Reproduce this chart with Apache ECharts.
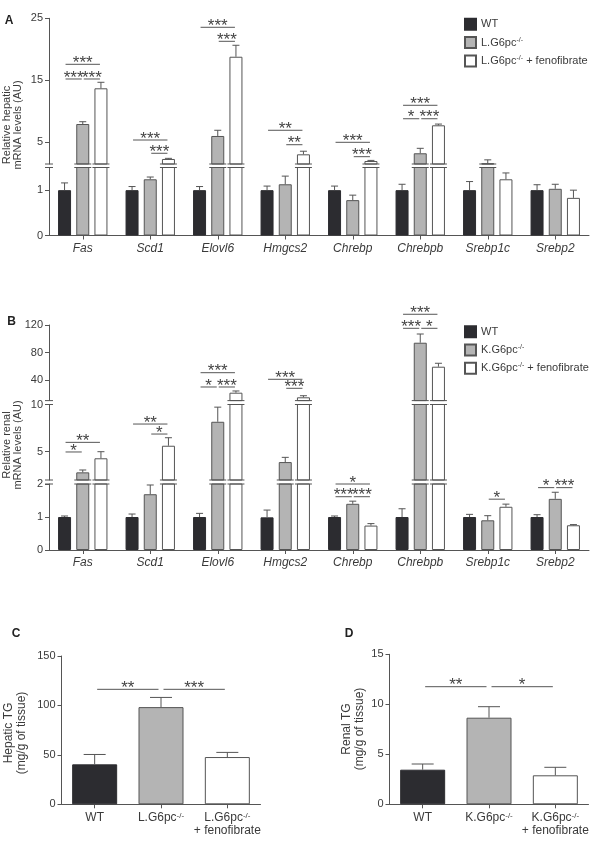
<!DOCTYPE html>
<html><head><meta charset="utf-8">
<script src="https://cdn.jsdelivr.net/npm/echarts@6/dist/echarts.min.js"></script>
<style>html,body{margin:0;padding:0;background:#fff}#c{width:596px;height:844px}</style>
</head><body><div id="c"></div>
<script>
// ---------------- DATA ----------------
const genes = ['Fas','Scd1','Elovl6','Hmgcs2','Chrebp','Chrebpb','Srebp1c','Srebp2'];
const groupsL = ['WT','L.G6pc-/-','L.G6pc-/- + fenofibrate'];
const groupsK = ['WT','K.G6pc-/-','K.G6pc-/- + fenofibrate'];

// Panel A: relative hepatic mRNA levels
const hepaticWT      = [1.0, 1.0, 1.0, 1.0, 1.0, 1.0, 1.0, 1.0];
const hepaticWTErr   = [0.16, 0.08, 0.08, 0.09, 0.09, 0.13, 0.19, 0.12];
const hepaticKO      = [7.95, 1.24, 6.02, 1.13, 0.78, 3.23, 1.62, 1.03];
const hepaticKOErr   = [0.37, 0.05, 0.92, 0.18, 0.11, 0.8, 0.55, 0.1];
const hepaticFeno    = [13.71, 2.31, 18.8, 3.06, 1.98, 7.74, 1.24, 0.83];
const hepaticFenoErr = [0.97, 0.1, 1.85, 0.5, 0.1, 0.2, 0.14, 0.17];
const hepaticTicksLow  = [0, 1];
const hepaticTicksHigh = [5, 15, 25];
// [gene, fromGroup, toGroup, level, label]
const hepaticSig = [
  [0,0,2,17.58,'***'], [0,0,1,15.21,'***'], [0,1,2,15.21,'***'],
  [1,0,2,5.37,'***'],  [1,1,2,3.23,'***'],
  [2,0,2,23.55,'***'], [2,1,2,21.29,'***'],
  [3,0,2,6.94,'**'],   [3,1,2,4.61,'**'],
  [4,0,2,5.0,'***'],   [4,1,2,2.68,'***'],
  [5,0,2,10.97,'***'], [5,0,1,8.8,'*'], [5,1,2,8.8,'***']
];

// Panel B: relative renal mRNA levels
const renalWT      = [1.0, 1.0, 1.0, 0.99, 1.0, 1.0, 1.0, 1.0];
const renalWTErr   = [0.03, 0.09, 0.11, 0.22, 0.03, 0.25, 0.08, 0.07];
const renalKO      = [2.81, 1.69, 8.17, 3.9, 1.4, 94.2, 0.9, 1.55];
const renalKOErr   = [0.25, 0.28, 1.55, 0.5, 0.08, 12.7, 0.14, 0.2];
const renalFeno    = [4.3, 5.63, 21.5, 14.8, 0.74, 59.3, 1.31, 0.75];
const renalFenoErr = [0.7, 0.85, 2.5, 2.3, 0.06, 5.0, 0.08, 0.02];
const renalTicksLow  = [0, 1, 2];
const renalTicksMid  = [5, 10];
const renalTicksHigh = [40, 80, 120];
const renalSig = [
  [0,0,2,5.99,'**'],  [0,0,1,4.97,'*'],
  [1,0,2,7.93,'**'],  [1,1,2,6.87,'*'],
  [2,0,2,50.6,'***'], [2,0,1,29.8,'*'], [2,1,2,29.8,'***'],
  [3,0,2,41.0,'***'], [3,1,2,27.9,'***'],
  [4,0,2,2.0,'*'],    [4,0,1,1.615,'***'], [4,1,2,1.615,'***'],
  [5,0,2,135.6,'***'],[5,0,1,115.2,'***'], [5,1,2,115.2,'*'],
  [6,1,2,1.54,'*'],
  [7,0,1,1.89,'*'],   [7,1,2,1.89,'***']
];

// Panel C: hepatic TG (mg/g of tissue)
const tgCatsL = ['WT', 'L.G6pc-/-', 'L.G6pc-/-\n+ fenofibrate'];
const hepaticTG    = [40.4, 98.3, 47.8];
const hepaticTGErr = [10.0, 9.8, 4.7];
const hepaticTGTicks = [0, 50, 100, 150];
const hepaticTGSig = [[0,1,116.3,'**'], [1,2,116.3,'***']];

// Panel D: renal TG (mg/g of tissue)
const tgCatsK = ['WT', 'K.G6pc-/-', 'K.G6pc-/-\n+ fenofibrate'];
const renalTG    = [3.46, 8.66, 2.9];
const renalTGErr = [0.57, 1.1, 0.8];
const renalTGTicks = [0, 5, 10, 15];
const renalTGSig = [[0,1,11.76,'**'], [1,2,11.76,'*']];

// ---------------- STYLE / LAYOUT ----------------
const FONT = "'Liberation Sans', Arial, Helvetica, sans-serif";
const AXIS = '#555555';
const TXT = '#3a3a3a';
const FILLS = ['#2c2c30', '#b4b4b4', '#ffffff'];
const BORDERS = ['#2c2c30', '#555555', '#555555'];
const BAR_W = 13, BAR_GAP = 0.4;
const OFFS = [-1, 0, 1].map(k => k * BAR_W * (1 + BAR_GAP));
const STAR_FONT = '17px ' + FONT;
const STAR_DY = -1;

const grids = [], xAxes = [], yAxes = [], series = [];
const supRich = { sup: { fontSize: 7, lineHeight: 7, verticalAlign: 'top', fontFamily: FONT, color: TXT } };
const supFmt = n => n.replace(/-\/-/g, '{sup|-/-}');

function addGrid(o) {
  const gi = grids.length;
  grids.push({ left: o.left, top: o.top, width: o.width, height: o.height, containLabel: false, outerBoundsMode: 'none' });
  xAxes.push({
    type: 'category', gridIndex: gi, data: o.cats, show: !!o.showX,
    axisLine: { show: true, lineStyle: { color: AXIS, width: 1 } },
    axisTick: { show: true, alignWithLabel: true, length: 4, lineStyle: { color: AXIS } },
    axisLabel: Object.assign({ show: true, interval: 0, margin: o.xMargin || 7, color: TXT, fontFamily: FONT,
      fontSize: o.xFontSize || 12, fontStyle: o.italic ? 'italic' : 'normal' }, o.xLabelExtra || {}),
    splitLine: { show: false }
  });
  yAxes.push({
    type: 'value', gridIndex: gi, min: o.min, max: o.max,
    axisLine: { show: true, lineStyle: { color: AXIS, width: 1 } },
    axisTick: { show: true, length: 4, customValues: o.ticks, lineStyle: { color: AXIS } },
    axisLabel: { show: true, customValues: o.ticks, margin: 6, color: TXT, fontFamily: FONT, fontSize: 11 },
    splitLine: { show: false }
  });
  return gi;
}

function lineEl(x1, y1, x2, y2) {
  return { type: 'line', shape: { x1, y1, x2, y2 }, style: { stroke: AXIS, lineWidth: 1 } };
}

// error bars, clipped by hand to the value range [lo, hi] of their segment
function errSeries(gi, items, xOf, capHalf, lo, hi) {
  return {
    type: 'custom', xAxisIndex: gi, yAxisIndex: gi, clip: false, silent: true, z: 3,
    data: items.map(it => [it[0], it[1]]), encode: { x: 0, y: 1 },
    renderItem(params, api) {
      const it = items[params.dataIndex];
      const a = Math.max(it[1], lo), b = Math.min(it[1] + it[2], hi);
      if (b <= a) return { type: 'group', children: [] };
      const x = xOf(api, it[0], it[3]);
      const ya = api.coord([it[0], a])[1], yb = api.coord([it[0], b])[1];
      const kids = [lineEl(x, ya, x, yb)];
      if (it[1] + it[2] <= hi) kids.push(lineEl(x - capHalf, yb, x + capHalf, yb));
      return { type: 'group', children: kids };
    }
  };
}

function sigSeries(gi, list, xOf, shrink) {
  return {
    type: 'custom', xAxisIndex: gi, yAxisIndex: gi, clip: false, silent: true, z: 4,
    data: list.map(b => [b.cat, b.y]), encode: { x: 0, y: 1 },
    renderItem(params, api) {
      const b = list[params.dataIndex];
      const y = api.coord([b.cat, b.y])[1];
      const xa = xOf(api, b.cat, b.from) + shrink, xb = xOf(api, b.cat, b.to) - shrink;
      return { type: 'group', children: [
        lineEl(xa, y, xb, y),
        { type: 'text', x: (xa + xb) / 2, y: y + STAR_DY,
          style: { text: b.text, font: STAR_FONT, fill: '#444', align: 'center', verticalAlign: 'middle',
                   textAlign: 'center', textVerticalAlign: 'middle' } }
      ] };
    }
  };
}

function genePanel(p) {
  const vals = p.values, errs = p.errors;
  const xOf = (api, cat, g) => api.coord([cat, 0])[0] + OFFS[g];
  p.segs.forEach((s, si) => {
    const gi = addGrid({ left: p.left, width: p.width, top: s.top, height: s.height, cats: genes,
      showX: si === 0, italic: true, min: s.min, max: s.max, ticks: s.ticks, xMargin: 7 });
    vals.forEach((arr, k) => {
      series.push({ type: 'bar', name: p.groups[k], xAxisIndex: gi, yAxisIndex: gi,
        barWidth: BAR_W, barGap: (BAR_GAP * 100) + '%', clip: true, silent: true,
        data: arr.map(v => (v > s.min ? v : '-')),
        itemStyle: { color: FILLS[k], borderColor: BORDERS[k], borderWidth: 1 } });
    });
    const errItems = [];
    vals.forEach((arr, k) => arr.forEach((v, i) => errItems.push([i, v, errs[k][i], k])));
    series.push(errSeries(gi, errItems, xOf, 3.5, s.min, s.max));
    // break marks
    const brk = [];
    if (si < p.segs.length - 1) {
      brk.push([0, s.min, -1, 1]);
      vals.forEach((arr, k) => arr.forEach((v, i) => { if (v > s.max) brk.push([i, s.min, k, 1]); }));
    }
    if (si > 0) {
      brk.push([0, s.min, -1, 0]);
      vals.forEach((arr, k) => arr.forEach((v, i) => { if (v > s.min) brk.push([i, s.min, k, 0]); }));
    }
    if (brk.length) {
      series.push({ type: 'custom', xAxisIndex: gi, yAxisIndex: gi, clip: false, silent: true, z: 5,
        data: brk.map(b => [b[0], b[1]]), encode: { x: 0, y: 1 },
        renderItem(params, api) {
          const b = brk[params.dataIndex];
          const cs = params.coordSys;
          const y = b[3] === 1 ? cs.y : cs.y + cs.height;
          if (b[2] < 0) return lineEl(cs.x - 4, y, cs.x + 4, y);
          const xc = xOf(api, b[0], b[2]);
          return lineEl(xc - BAR_W / 2 - 2, y, xc + BAR_W / 2 + 2, y);
        } });
    }
    // significance brackets
    const mine = p.sig.filter(b => {
      const idx = p.segs.findIndex(t => b[3] >= t.min && b[3] <= t.max);
      return (idx < 0 ? p.segs.length - 1 : idx) === si;
    }).map(b => ({ cat: b[0], from: b[1], to: b[2], y: b[3], text: b[4] }));
    if (mine.length) series.push(sigSeries(gi, mine, xOf, 1));
  });
}

function tgPanel(p) {
  const lo = p.ticks[0], hi = p.ticks[p.ticks.length - 1];
  const gi = addGrid({ left: p.left, width: p.width, top: p.top, height: p.height, cats: p.cats,
    showX: true, italic: false, min: lo, max: hi, ticks: p.ticks, xMargin: 7,
    xLabelExtra: { lineHeight: 13, formatter: supFmt, rich: { sup: { fontSize: 8, lineHeight: 8, verticalAlign: 'top', fontFamily: FONT, color: TXT } } } });
  series.push({ type: 'bar', name: p.name, xAxisIndex: gi, yAxisIndex: gi, barWidth: 45, clip: true, silent: true,
    data: p.values.map((v, i) => ({ value: v, itemStyle: { color: FILLS[i], borderColor: BORDERS[i], borderWidth: 1 } })) });
  const xOf = (api, cat, g) => api.coord([g, 0])[0];
  series.push(errSeries(gi, p.values.map((v, i) => [i, v, p.errors[i], i]), (api, cat) => api.coord([cat, 0])[0], 11, lo, hi));
  series.push(sigSeries(gi, p.sig.map(b => ({ cat: b[0], from: b[0], to: b[1], y: b[2], text: b[3] })), xOf, 2.5));
}

genePanel({ left: 49, width: 540, groups: groupsL,
  values: [hepaticWT, hepaticKO, hepaticFeno], errors: [hepaticWTErr, hepaticKOErr, hepaticFenoErr],
  sig: hepaticSig,
  segs: [ { min: 0, max: 1.5, top: 167.5, height: 68, ticks: hepaticTicksLow },
          { min: 1.5, max: 25, top: 18.3, height: 145.7, ticks: hepaticTicksHigh } ] });

genePanel({ left: 49, width: 540, groups: groupsK,
  values: [renalWT, renalKO, renalFeno], errors: [renalWTErr, renalKOErr, renalFenoErr],
  sig: renalSig,
  segs: [ { min: 0, max: 2, top: 484, height: 66, ticks: renalTicksLow },
          { min: 2, max: 10, top: 404.5, height: 75.5, ticks: renalTicksMid },
          { min: 10, max: 120, top: 325, height: 75.6, ticks: renalTicksHigh } ] });

tgPanel({ name: 'Hepatic TG', left: 61.5, width: 199, top: 656, height: 148.3, cats: tgCatsL,
  values: hepaticTG, errors: hepaticTGErr, ticks: hepaticTGTicks, sig: hepaticTGSig });
tgPanel({ name: 'Renal TG', left: 389.5, width: 199, top: 654.3, height: 150, cats: tgCatsK,
  values: renalTG, errors: renalTGErr, ticks: renalTGTicks, sig: renalTGSig });

function legendFor(names, top) {
  return { data: names, orient: 'vertical', left: 464, top: top, itemWidth: 11, itemHeight: 11, itemGap: 5.3,
    icon: 'rect', selectedMode: false, padding: 0,
    textStyle: { color: TXT, fontFamily: FONT, fontSize: 11, lineHeight: 13, rich: supRich },
    formatter: supFmt };
}

function vtitle(text, x, y, size, lh) {
  return { type: 'text', x: x, y: y, rotation: Math.PI / 2, silent: true,
    style: { text: text, font: size + 'px ' + FONT, fill: TXT, lineHeight: lh,
      align: 'center', verticalAlign: 'middle', textAlign: 'center', textVerticalAlign: 'middle' } };
}
function letter(t, x, y) {
  return { type: 'text', x: x, y: y, silent: true,
    style: { text: t, font: 'bold 12px ' + FONT, fill: '#222', align: 'center', verticalAlign: 'middle',
      textAlign: 'center', textVerticalAlign: 'middle' } };
}

const chart = echarts.init(document.getElementById('c'), null, { renderer: 'canvas', width: 596, height: 844 });
chart.setOption({
  animation: false,
  backgroundColor: '#ffffff',
  textStyle: { fontFamily: FONT },
  grid: grids, xAxis: xAxes, yAxis: yAxes, series: series,
  legend: [legendFor(groupsL, 17.8), legendFor(groupsK, 325.2)],
  graphic: [
    letter('A', 9, 21), letter('B', 11.5, 322), letter('C', 16, 634), letter('D', 349, 634),
    vtitle('Relative hepatic\nmRNA levels (AU)', 12, 125, 11, 11),
    vtitle('Relative renal\nmRNA levels (AU)', 12.5, 445, 11, 11),
    vtitle('Hepatic TG\n(mg/g of tissue)', 15.5, 733, 12, 13),
    vtitle('Renal TG\n(mg/g of tissue)', 353, 729, 12, 13)
  ]
});
</script>
</body></html>
